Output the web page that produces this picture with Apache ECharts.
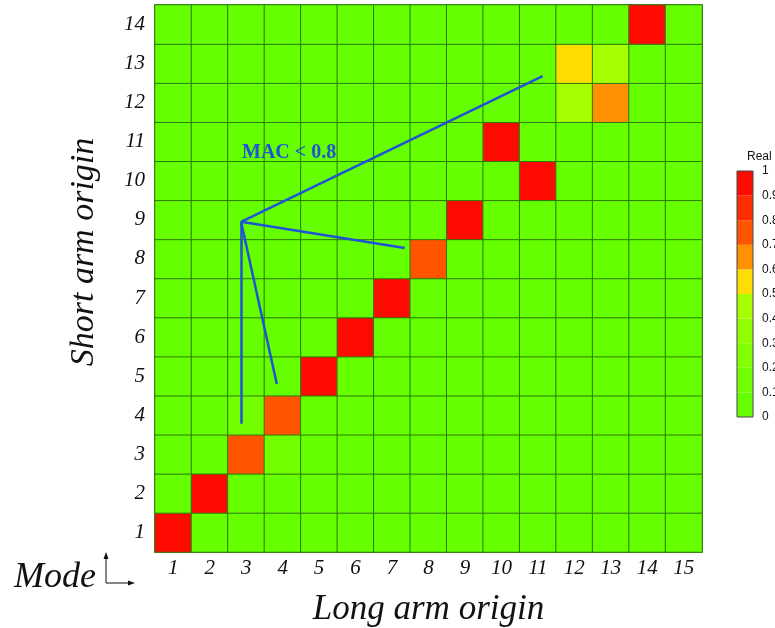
<!DOCTYPE html>
<html>
<head>
<meta charset="utf-8">
<script src="https://cdn.jsdelivr.net/npm/echarts@6/dist/echarts.min.js"></script>
<style>
  html, body { margin: 0; padding: 0; background: #ffffff; }
  #chart { width: 775px; height: 628px; }
</style>
</head>
<body>
<div id="chart"></div>
<script>
// Long arm origin (columns) and short arm origin (rows)
const longArm = ['1','2','3','4','5','6','7','8','9','10','11','12','13','14','15'];
const shortArm = ['1','2','3','4','5','6','7','8','9','10','11','12','13','14'];

// MAC values, one row per short arm origin (1 at the bottom), columns = long arm 1..15
const macRow1  = [1.00,0.05,0.05,0.05,0.05,0.05,0.05,0.05,0.05,0.05,0.05,0.05,0.05,0.05,0.05];
const macRow2  = [0.05,0.98,0.05,0.05,0.05,0.05,0.05,0.05,0.05,0.05,0.05,0.05,0.05,0.05,0.05];
const macRow3  = [0.05,0.05,0.75,0.15,0.05,0.05,0.05,0.05,0.05,0.05,0.05,0.05,0.05,0.05,0.05];
const macRow4  = [0.05,0.05,0.12,0.75,0.05,0.05,0.05,0.05,0.05,0.05,0.05,0.05,0.05,0.05,0.05];
const macRow5  = [0.05,0.05,0.05,0.05,0.97,0.05,0.05,0.05,0.05,0.05,0.05,0.05,0.05,0.05,0.05];
const macRow6  = [0.05,0.05,0.05,0.05,0.05,0.97,0.05,0.05,0.05,0.05,0.05,0.05,0.05,0.05,0.05];
const macRow7  = [0.05,0.05,0.05,0.05,0.05,0.05,0.92,0.05,0.05,0.05,0.05,0.05,0.05,0.05,0.05];
const macRow8  = [0.05,0.05,0.05,0.05,0.05,0.05,0.05,0.74,0.05,0.05,0.05,0.05,0.05,0.05,0.05];
const macRow9  = [0.05,0.05,0.05,0.05,0.05,0.05,0.05,0.05,0.96,0.05,0.05,0.05,0.05,0.05,0.05];
const macRow10 = [0.05,0.05,0.05,0.05,0.05,0.05,0.05,0.05,0.05,0.05,0.95,0.05,0.05,0.05,0.05];
const macRow11 = [0.05,0.05,0.05,0.05,0.05,0.05,0.05,0.05,0.05,0.95,0.05,0.05,0.05,0.05,0.05];
const macRow12 = [0.05,0.05,0.05,0.05,0.05,0.05,0.05,0.05,0.05,0.05,0.05,0.43,0.65,0.05,0.05];
const macRow13 = [0.05,0.05,0.05,0.05,0.05,0.05,0.05,0.05,0.05,0.05,0.05,0.55,0.45,0.05,0.05];
const macRow14 = [0.05,0.05,0.05,0.05,0.05,0.05,0.05,0.05,0.05,0.05,0.05,0.05,0.05,0.97,0.05];
const macRows = [macRow1,macRow2,macRow3,macRow4,macRow5,macRow6,macRow7,
                 macRow8,macRow9,macRow10,macRow11,macRow12,macRow13,macRow14];

// Colour scale "Real": ten bands of width 0.1 from 0 to 1
const bandEdges = [0,0.1,0.2,0.3,0.4,0.5,0.6,0.7,0.8,0.9,1.0];
const bandColors = ['#66ff00','#74ff00','#82ff00','#92ff00','#a6ff00',
                    '#ffdd00','#ff9100','#ff5500','#ff2e00','#ff0a00'];

// Guide lines fanning out from one point (long arm, short arm units)
const guideApex = [2.86, 8.95];
const guideEnds = [[11.13, 12.68], [7.35, 8.28], [3.84, 4.80], [2.86, 3.78]];

const heatData = [];
macRows.forEach((row, yi) => row.forEach((v, xi) => heatData.push([xi, yi, v])));

const pieces = bandColors.map((c, i) => ({
  gte: bandEdges[i], lt: i === bandColors.length - 1 ? 1.0001 : bandEdges[i + 1], color: c
}));

const serif = '"Liberation Serif", "DejaVu Serif", serif';
const sans = '"Liberation Sans", Arial, sans-serif';

const colorbarSeries = bandColors.map((c, i) => ({
  type: 'bar', xAxisIndex: 2, yAxisIndex: 2, stack: 'bar',
  barWidth: '100%', silent: true,
  itemStyle: { color: c },
  data: [bandEdges[i + 1] - bandEdges[i]]
}));

const chart = echarts.init(document.getElementById('chart'), null, { renderer: 'canvas' });
chart.setOption({
  animation: false,
  backgroundColor: '#ffffff',
  title: {
    text: 'Real', left: 742, top: 146,
    textStyle: { fontSize: 12, fontWeight: 'normal', color: '#111', fontFamily: sans }
  },
  grid: [
    { left: 155, top: 5, width: 547, height: 547, outerBoundsMode: 'none',
      show: true, borderColor: '#4a6a3a', borderWidth: 1.5, backgroundColor: 'transparent' },
    { left: 737, top: 171, width: 16, height: 246, outerBoundsMode: 'none',
      show: true, borderColor: '#444', borderWidth: 1, z: 3, backgroundColor: 'transparent' }
  ],
  xAxis: [
    {
      type: 'category', gridIndex: 0, data: longArm,
      axisLine: { show: false }, axisTick: { show: false }, splitLine: { show: false },
      axisLabel: { fontFamily: serif, fontStyle: 'italic', fontSize: 21, color: '#111', margin: 6 },
      name: 'Long arm origin', nameLocation: 'middle', nameGap: 40,
      nameTextStyle: { fontFamily: serif, fontStyle: 'italic', fontSize: 35, color: '#111' }
    },
    { type: 'value', gridIndex: 0, min: 0.5, max: 15.5, show: false },
    { type: 'category', gridIndex: 1, data: ['Real'], show: false }
  ],
  yAxis: [
    {
      type: 'category', gridIndex: 0, data: shortArm,
      axisLine: { show: false }, axisTick: { show: false }, splitLine: { show: false },
      axisLabel: { fontFamily: serif, fontStyle: 'italic', fontSize: 21, color: '#111', margin: 10 }
    },
    { type: 'value', gridIndex: 0, min: 0.5, max: 14.5, show: false },
    {
      type: 'value', gridIndex: 1, min: 0, max: 1, interval: 0.1, position: 'right',
      axisLine: { show: false }, axisTick: { show: false }, splitLine: { show: false },
      axisLabel: {
        margin: 9, fontSize: 12, color: '#111', fontFamily: sans,
        formatter: v => String(+v.toFixed(1))
      }
    }
  ],
  visualMap: {
    type: 'piecewise', show: false, seriesIndex: 0, dimension: 2, pieces: pieces
  },
  series: [
    {
      type: 'heatmap', xAxisIndex: 0, yAxisIndex: 0, data: heatData,
      itemStyle: { borderColor: '#2b7a08', borderWidth: 1 },
      emphasis: { disabled: true }, silent: true
    },
    {
      type: 'lines', coordinateSystem: 'cartesian2d', xAxisIndex: 1, yAxisIndex: 1,
      silent: true, z: 5,
      lineStyle: { color: '#1f55d4', width: 2.5, opacity: 1, curveness: 0 },
      data: guideEnds.map(e => ({ coords: [guideApex, e] }))
    },
    ...colorbarSeries
  ],
  graphic: [
    {
      // rotated title of the vertical axis
      type: 'text', x: 84, y: 252, rotation: Math.PI / 2, z: 10,
      style: { text: 'Short arm origin', fill: '#111', font: 'italic 34px ' + serif,
               align: 'center', verticalAlign: 'middle' }
    },
    {
      type: 'text', left: 242, top: 143, z: 10,
      style: { text: 'MAC < 0.8', fill: '#1f55d4', font: 'bold 20px ' + serif }
    },
    {
      type: 'text', left: 14, top: 560, z: 10,
      style: { text: 'Mode', fill: '#111', font: 'italic 36px ' + serif }
    },
    {
      type: 'group', z: 10,
      children: [
        { type: 'line', shape: { x1: 106, y1: 583, x2: 106, y2: 557 }, style: { stroke: '#111', lineWidth: 1 } },
        { type: 'polygon', shape: { points: [[106, 552], [103.5, 559], [108.5, 559]] }, style: { fill: '#111' } },
        { type: 'line', shape: { x1: 106, y1: 583, x2: 129, y2: 583 }, style: { stroke: '#111', lineWidth: 1 } },
        { type: 'polygon', shape: { points: [[135, 583], [128, 580.5], [128, 585.5]] }, style: { fill: '#111' } }
      ]
    }
  ]
});
</script>
</body>
</html>
